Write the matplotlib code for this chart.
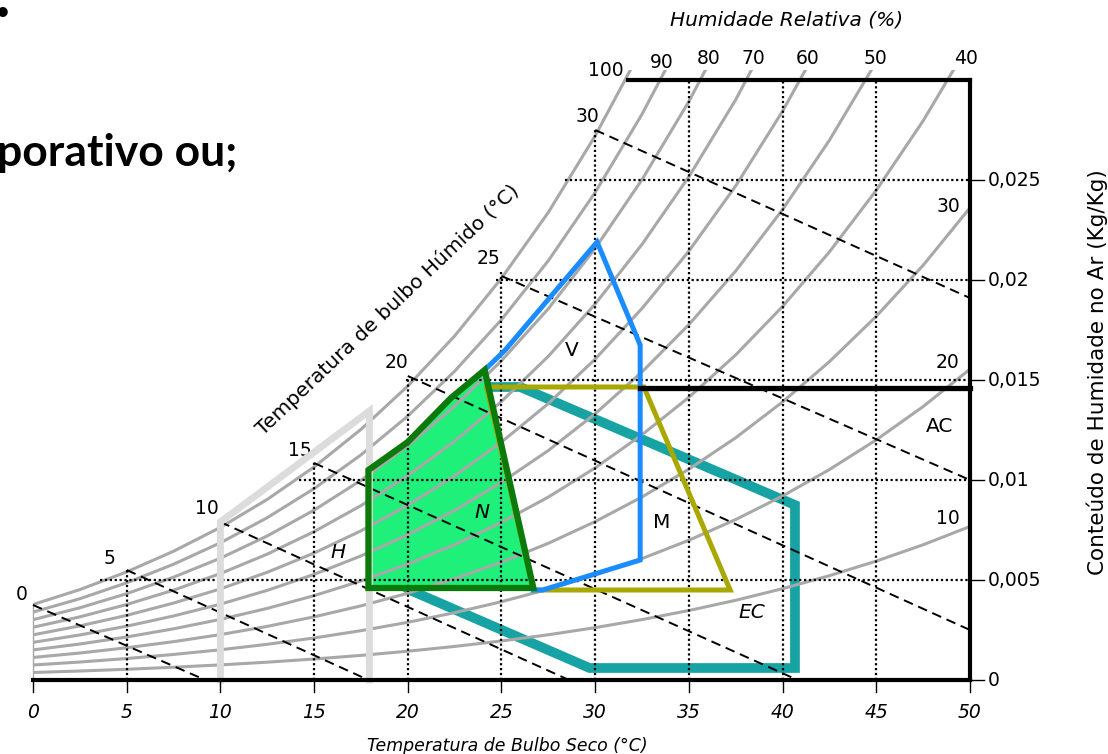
import numpy as np
import matplotlib
matplotlib.use("Agg")
import matplotlib.pyplot as plt
from matplotlib.patches import Rectangle, Polygon

# ---------------- data ----------------
# saturation vapour pressure (kPa) vs dry-bulb temperature (°C)
sat_temp = [0, 2.5, 5, 7.5, 10, 12.5, 15, 17.5, 20, 22.5, 25, 27.5, 30,
            32.5, 35, 37.5, 40, 42.5, 45, 47.5, 50]
sat_pres = [0.611, 0.731, 0.873, 1.038, 1.228, 1.450, 1.706, 2.001, 2.339,
            2.727, 3.170, 3.671, 4.247, 4.898, 5.629, 6.452, 7.385, 8.428,
            9.595, 10.897, 12.352]
rh_levels = [100, 90, 80, 70, 60, 50, 40, 30, 20, 10]

x_ticks = [0, 5, 10, 15, 20, 25, 30, 35, 40, 45, 50]
y_ticks = [0, 0.005, 0.010, 0.015, 0.020, 0.025]
y_tick_labels = ["0", "0,005", "0,01", "0,015", "0,02", "0,025"]

# dotted grid
vert_T = [5, 15, 20, 25, 30, 35, 40, 45]
vert_top = [0.0055, 0.0109, 0.0151, 0.0205, 0.0275, 0.030, 0.030, 0.030]
horiz_w = [0.005, 0.010, 0.015, 0.020, 0.025]
horiz_start = [3.6, 14.2, 19.9, 24.7, 28.4]

# wet-bulb lines
wb_T = [0, 5, 10, 15, 20, 25, 30]
wb_start_w = [0.00375, 0.0055, 0.0079, 0.01085, 0.0152, 0.0202, 0.0275]
wb_end_T = [9.2, 17.9, 28.6, 40.8, 50, 50, 50]
wb_end_w = [0.0, 0.0, 0.0, 0.0, 0.0025, 0.0100, 0.0191]

# bioclimatic zones
H_T = [10, 10, 17.95, 17.95]
H_w = [0, 0.0079, 0.01345, 0]
N_T = [17.9, 17.9, 20.0, 22.3, 24.1, 26.7]
N_w = [0.0046, 0.0105, 0.0119, 0.0141, 0.0155, 0.0046]
V_T = [24.1, 25.2, 30.1, 32.4, 32.4, 27.2, 26.7]
V_w = [0.0155, 0.0165, 0.0219, 0.01675, 0.0060, 0.0045, 0.0045]
M_T = [24.2, 32.6, 37.2, 26.7]
M_w = [0.01465, 0.01465, 0.0045, 0.0045]
EC_T = [23.9, 26.0, 40.66, 40.66, 29.7, 20.1, 19.3]
EC_w = [0.01465, 0.01465, 0.00875, 0.0006, 0.0006, 0.0045, 0.0050]
AC_T = [32.4, 50]
AC_w = [0.0146, 0.0146]

# ---------------- layout helpers ----------------
X0, XS = 33.0, 18.74      # px of 0 °C, px per °C
Y0, YS = 680.0, 20000.0   # px of w=0, px per kg/kg


def P(px, py):
    return ((px - X0) / XS, (Y0 - py) / YS)


fig = plt.figure(figsize=(11.08, 7.54), dpi=100)
ax = fig.add_axes([0, 0, 1, 1])
ax.set_xlim(-X0 / XS, (1108 - X0) / XS)
ax.set_ylim((Y0 - 754) / YS, Y0 / YS)
ax.axis("off")

GRAY = "#a8a8a8"

# relative humidity curves
T = np.array(sat_temp)
ps = np.array(sat_pres)
clip = Rectangle((0, -0.01), 50, 0.01 + 0.0305, transform=ax.transData)
for rh in rh_levels:
    pv = rh / 100.0 * ps
    w = 0.622 * pv / (101.325 - pv)
    ln, = ax.plot(T, w, color=GRAY, lw=2.2, zorder=2, solid_capstyle="butt")
    ln.set_clip_path(clip)
w_sat0 = 0.622 * ps[0] / (101.325 - ps[0])
ax.plot([0, 0], [0, w_sat0], color=GRAY, lw=1, zorder=2)

# dotted grid
for t, top in zip(vert_T, vert_top):
    ax.plot([t, t], [0, top], color="k", lw=1.6, ls=(0, (1, 1.2)), zorder=3)
for w, t0 in zip(horiz_w, horiz_start):
    ax.plot([t0, 50], [w, w], color="k", lw=1.6, ls=(0, (1, 1.2)), zorder=3)

# wet-bulb dashed lines
for t, w0, t1, w1 in zip(wb_T, wb_start_w, wb_end_T, wb_end_w):
    ax.plot([t, t1], [w0, w1], color="k", lw=1.4, ls=(0, (5, 3)), zorder=3)

# zones
ax.plot(EC_T, EC_w, color="#17a3a3", lw=7, zorder=1, solid_joinstyle="miter")
ax.add_patch(Polygon(list(zip(N_T, N_w)), closed=True, facecolor="#1ef07a",
                     edgecolor="none", zorder=1.5))
ax.plot(H_T, H_w, color="#dcdcdc", lw=5, zorder=4, solid_joinstyle="miter")
ax.plot(M_T + [M_T[0]], M_w + [M_w[0]], color="#a8a800", lw=3.6, zorder=5,
        solid_joinstyle="miter")
ax.plot(V_T, V_w, color="#1a8cff", lw=3.6, zorder=6, solid_joinstyle="miter")
ax.add_patch(Polygon(list(zip(N_T, N_w)), closed=True, facecolor="none",
                     edgecolor="#0b7a0b", lw=4.5, zorder=7, joinstyle="miter"))
ax.plot(AC_T, AC_w, color="k", lw=3.8, zorder=6)

# frame
ax.plot([0, 50], [0, 0], color="k", lw=3, zorder=8, solid_capstyle="projecting")
ax.plot([50, 50], [0, 0.030], color="k", lw=3, zorder=8, solid_capstyle="projecting")
ax.plot([31.75, 50], [0.030, 0.030], color="k", lw=3, zorder=8,
        solid_capstyle="projecting")

FS = 13.5
# ticks and labels
for t in x_ticks:
    ax.plot([t, t], [0, -12 / YS], color="k", lw=1, zorder=8)
    ax.text(t, P(0, 712)[1], str(t), ha="center", va="center", fontsize=FS,
            style="italic")
for w, lab in zip(y_ticks, y_tick_labels):
    ax.plot([50, 50 + 14 / XS], [w, w], color="k", lw=1, zorder=8)
    ax.text(*P(988, Y0 - w * YS), lab, ha="left", va="center", fontsize=FS)

# wet bulb labels
wb_lab_pos = [(22, 595), (110, 559), (207, 508), (300, 450), (397, 363),
              (489, 259), (587, 117)]
for t, (px, py) in zip(wb_T, wb_lab_pos):
    ax.text(*P(px, py), str(t), ha="center", va="center", fontsize=FS)

# RH labels
rh_lab_pos = [(606, 71), (662, 62), (709, 59), (753, 59), (808, 59),
              (875, 59), (966, 59), (948, 207), (948, 363), (948, 518)]
for rh, (px, py) in zip(rh_levels, rh_lab_pos):
    ax.text(*P(px, py), str(rh), ha="center", va="center", fontsize=FS)

# zone labels
for lab, (px, py), st in zip(["V", "N", "H", "M", "EC", "AC"],
                             [(572, 350), (482, 513), (338, 552), (662, 523),
                              (752, 613), (940, 427)],
                             ["normal", "italic", "italic", "normal",
                              "italic", "normal"]):
    ax.text(*P(px, py), lab, ha="center", va="center", fontsize=14.5,
            style=st)

# titles
ax.text(*P(787, 20), "Humidade Relativa (%)", ha="center", va="center",
        fontsize=14.5, style="italic")
ax.text(*P(507, 746), "Temperatura de Bulbo Seco (°C)", ha="center",
        va="center", fontsize=12.5, style="italic")
ax.text(*P(1097, 372), "Conteúdo de Humidade no Ar (Kg/Kg)", ha="center",
        va="center", fontsize=15.5, rotation=90)
ax.text(*P(388, 310), "Temperatura de bulbo Húmido (°C)", ha="center",
        va="center", fontsize=14.5, rotation=43.5, rotation_mode="anchor")

# slide fragments
ax.text(*P(-3, 153), "porativo ou;", ha="left", va="center", fontsize=32,
        fontweight="bold", family="Lato")
ax.text(*P(3, 15), "•", ha="center", va="center", fontsize=20,
        fontweight="bold", family="DejaVu Sans")

fig.savefig("out.png", dpi=100)
